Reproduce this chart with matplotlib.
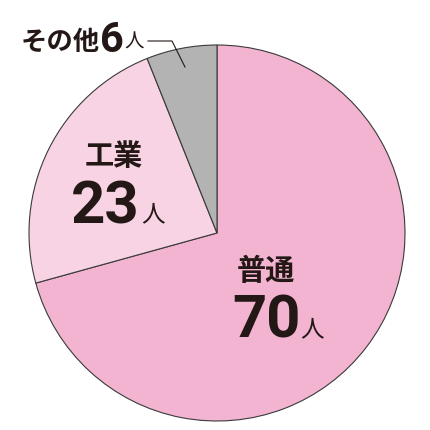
import matplotlib
import matplotlib.font_manager as fm
import matplotlib.pyplot as plt

matplotlib.use('Agg')

labels = ['普通', '工業', 'その他']
counts = [70, 23, 6]
unit = '人'
colors = ['#F2B4D0', '#F8D3E3', '#B3B3B3']

ink = '#231815'
jp = ['Noto Sans CJK JP', 'DejaVu Sans']
try:
    fm.findfont(fm.FontProperties(family='Liberation Sans Narrow'), fallback_to_default=False)
    num = ['Liberation Sans Narrow', 'Noto Sans CJK JP']
except ValueError:
    num = ['Roboto', 'Noto Sans CJK JP']

fig = plt.figure(figsize=(4.3, 4.3), dpi=100)
ax = fig.add_axes([0, 0, 1, 1])
ax.pie(counts, colors=colors, startangle=90, counterclock=False,
       center=(217, 197), radius=188,
       wedgeprops=dict(edgecolor='#3a3a3a', linewidth=0.8))
ax.set_xlim(0, 430)
ax.set_ylim(0, 430)
ax.axis('off')


def put(x, y, s, size, fam, weight='bold'):
    # x, y in pixels from the top left, y is the baseline
    ax.text(x, 430 - y, s, fontsize=size, family=fam, weight=weight,
            color=ink, ha='left', va='baseline')


# 普通
put(237, 280, labels[0], 21, jp)
put(232, 338, str(counts[0]), 43, num)
put(300, 336, unit, 17, jp, 'normal')

# 工業
put(85, 165, labels[1], 21, jp)
put(71, 223, str(counts[1]), 43, num)
put(141, 221, unit, 17, jp, 'normal')

# その他
put(21, 50, labels[2], 19, jp)
put(100, 52, str(counts[2]), 30, num)
put(124, 48, unit, 14, jp, 'normal')
ax.plot([148, 172, 185], [430 - 41, 430 - 41, 430 - 67], color=ink, lw=0.8)

fig.savefig('out.png', dpi=100)
